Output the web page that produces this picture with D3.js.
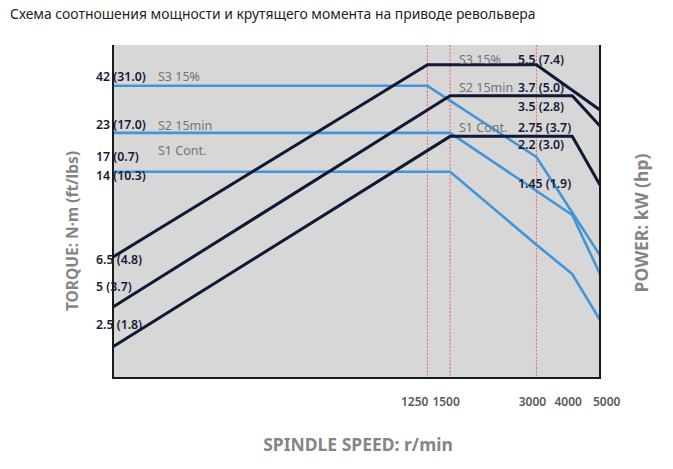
<!doctype html>
<html>
    <head>
        <meta charset="utf-8">
        <script src="https://d3js.org/d3.v7.min.js"></script>
        <style type="text/css">
            body    {
                margin:0;
                background:#ffffff;
            }
            svg {
                display:block;
            }
            text    {
                font-family:"Noto Sans",sans-serif;
            }
            .lbl    {
                font-size:12.3px;
                font-weight:600;
                fill:#141c36;
            }
            .mode   {
                font-size:12.5px;
                fill:#747474;
            }
            .axTitle    {
                font-weight:700;
                fill:#858585;
            }
            .tick   {
                font-size:12px;
                font-weight:600;
                fill:#5a5a5a;
            }
        </style>
    </head>
    <body>
        <script>

            //speeds (r/min) - the x axis is logarithmic
            var speedTicks = [1250, 1500, 3000, 4000, 5000];
            var dashSpeeds = [1250, 1500, 3000];

            //torque curves, N·m (blue)
            var torqueS3 = [[100, 42], [1250, 42], [3000, 16.9], [5000, 4.8]];
            var torqueS2 = [[100, 23], [1500, 23], [4000, 8.05], [5000, 3.78]];
            var torqueS1 = [[100, 14], [1500, 14], [3000, 5.5], [4000, 3.78], [5000, 2.1]];

            //power curves, kW (dark)
            var powerS3 = [[100, 0.47], [1250, 5.5], [3000, 5.5], [5000, 3.08]];
            var powerS2 = [[100, 0.248], [1500, 3.7], [4000, 3.7], [5000, 2.51]];
            var powerS1 = [[100, 0.149], [1500, 2.2], [4000, 2.2], [5000, 1.18]];

            //labels on the left, with the torque level where they sit
            var leftLabels = ["42 (31.0)", "23 (17.0)", "17 (0.7)", "14 (10.3)", "6.5 (4.8)", "5 (3.7)", "2.5 (1.8)"];
            var leftLevels = [47, 25.4, 16.9, 13.3, 4.52, 3.2, 1.97];
            var leftModes = ["S3 15%", "S2 15min", "S1 Cont."];
            var leftModeLevels = [47, 25.4, 18.4];

            //labels on the right
            var rightLabels = ["5.5 (7.4)", "3.7 (5.0)", "3.5 (2.8)", "2.75 (3.7)", "2.2 (3.0)", "1.45 (1.9)"];
            var rightLevels = [58.4, 40.8, 32.0, 24.5, 19.7, 12.0];
            var rightModes = ["S3 15%", "S2 15min", "S1 Cont."];
            var rightModeLevels = [58.4, 40.8, 24.5];

            var W = 673, H = 469;
            var plotTop = 45;

            var svg = d3.select("body").append("svg")
                .attr("width", W)
                .attr("height", H);

            var x = d3.scaleLog().domain([100, 5000]).range([113, 600]);
            var y = d3.scaleLog().domain([1, 100]).range([378, 18]);       //torque
            var yP = d3.scaleLog().domain([0.1, 10]).range([378, 18]);     //power, same decades

            //title
            svg.append("text")
                .attr("x", 10)
                .attr("y", 19)
                .style("font-size", "13.9px")
                .style("fill", "#1e1e1e")
                .text("Схема соотношения мощности и крутящего момента на приводе револьвера");

            //grey plot area
            svg.append("rect")
                .attr("x", x.range()[0])
                .attr("y", plotTop)
                .attr("width", x.range()[1] - x.range()[0])
                .attr("height", y.range()[0] - plotTop)
                .style("fill", "#d7d7d7");

            //red dashed speed markers
            svg.append("g")
                .selectAll("line")
                .data(dashSpeeds)
                .enter()
                .append("line")
                .attr("x1", function(d) { return x(d); })
                .attr("x2", function(d) { return x(d); })
                .attr("y1", plotTop)
                .attr("y2", y.range()[0])
                .style("stroke", "#f0607a")
                .style("stroke-width", 1)
                .style("stroke-dasharray", "2,1.5");

            var torqueLine = d3.line()
                .x(function(d) { return x(d[0]); })
                .y(function(d) { return y(d[1]); });

            var powerLine = d3.line()
                .x(function(d) { return x(d[0]); })
                .y(function(d) { return yP(d[1]); });

            svg.append("g")
                .selectAll("path")
                .data([torqueS3, torqueS2, torqueS1])
                .enter()
                .append("path")
                .attr("d", torqueLine)
                .style("fill", "none")
                .style("stroke", "#4195d8")
                .style("stroke-width", 2.6)
                .style("stroke-linejoin", "round");

            svg.append("g")
                .selectAll("path")
                .data([powerS3, powerS2, powerS1])
                .enter()
                .append("path")
                .attr("d", powerLine)
                .style("fill", "none")
                .style("stroke", "#0e1936")
                .style("stroke-width", 3)
                .style("stroke-linejoin", "round");

            //frame: left, bottom and right only
            svg.append("path")
                .attr("d", "M" + x.range()[0] + "," + plotTop +
                           "V" + y.range()[0] +
                           "H" + x.range()[1] +
                           "V" + plotTop)
                .style("fill", "none")
                .style("stroke", "#1a1a1a")
                .style("stroke-width", 2);

            //left labels
            svg.append("g")
                .selectAll("text")
                .data(leftLabels)
                .enter()
                .append("text")
                .classed("lbl", true)
                .attr("x", 96)
                .attr("y", function(d, i) { return y(leftLevels[i]); })
                .attr("dy", "0.35em")
                .text(function(d) { return d; });

            svg.append("g")
                .selectAll("text")
                .data(leftModes)
                .enter()
                .append("text")
                .classed("mode", true)
                .attr("x", 158)
                .attr("y", function(d, i) { return y(leftModeLevels[i]); })
                .attr("dy", "0.35em")
                .text(function(d) { return d; });

            //right labels
            svg.append("g")
                .selectAll("text")
                .data(rightLabels)
                .enter()
                .append("text")
                .classed("lbl", true)
                .attr("x", 518)
                .attr("y", function(d, i) { return y(rightLevels[i]); })
                .attr("dy", "0.35em")
                .text(function(d) { return d; });

            svg.append("g")
                .selectAll("text")
                .data(rightModes)
                .enter()
                .append("text")
                .classed("mode", true)
                .attr("x", 459)
                .attr("y", function(d, i) { return y(rightModeLevels[i]); })
                .attr("dy", "0.35em")
                .text(function(d) { return d; });

            //speed tick labels - 1250 sits left of its line, 5000 right of the frame
            svg.append("g")
                .selectAll("text")
                .data(speedTicks)
                .enter()
                .append("text")
                .classed("tick", true)
                .attr("x", function(d) {
                    if (d == 1250) return x(d) + 1;
                    if (d == 5000) return x(d) - 7;
                    return x(d) - 4;
                })
                .attr("y", 406)
                .style("text-anchor", function(d) {
                    if (d == 1250) return "end";
                    if (d == 5000) return "start";
                    return "middle";
                })
                .text(function(d) { return d; });

            //axis titles
            svg.append("text")
                .classed("axTitle", true)
                .attr("x", 358)
                .attr("y", 451)
                .style("font-size", "17.5px")
                .style("text-anchor", "middle")
                .text("SPINDLE SPEED: r/min");

            svg.append("text")
                .classed("axTitle", true)
                .attr("transform", "translate(78,231) rotate(-90)")
                .style("font-size", "15.5px")
                .style("text-anchor", "middle")
                .text("TORQUE: N·m (ft/lbs)");

            svg.append("text")
                .classed("axTitle", true)
                .attr("transform", "translate(648,223) rotate(-90)")
                .style("font-size", "17.5px")
                .style("text-anchor", "middle")
                .text("POWER: kW (hp)");

        </script>
    </body>
</html>
